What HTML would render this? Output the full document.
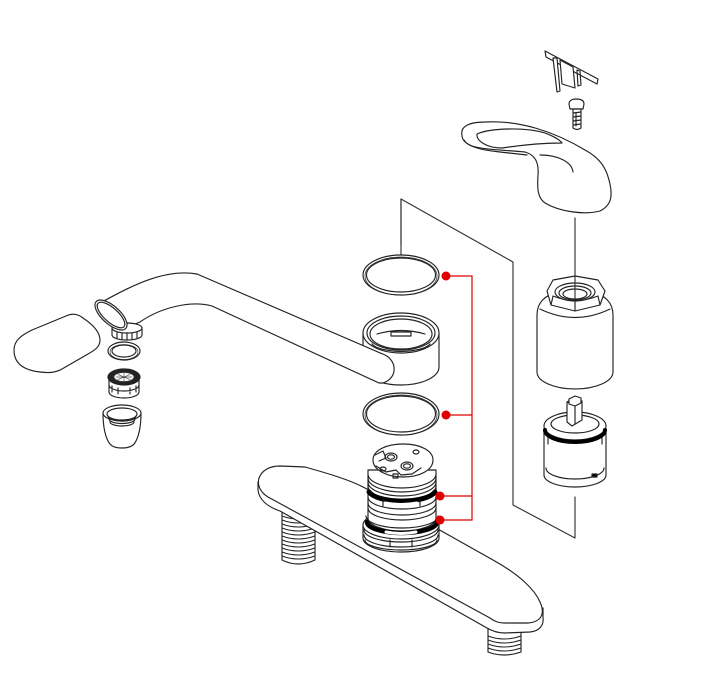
<!DOCTYPE html>
<html><head><meta charset="utf-8"><style>
html,body{margin:0;padding:0;background:#fff;}
svg{display:block;}
</style></head><body>
<svg width="720" height="677" viewBox="0 0 720 677" xmlns="http://www.w3.org/2000/svg">
<g fill="none" stroke="#222" stroke-width="1.15" stroke-linejoin="round" stroke-linecap="round">

<!-- black leader lines -->
<path d="M401,272 L401,199 L513,262 L513,505 L575,538 L575,497" stroke="#333"/>

<!-- ===== Base plate legs ===== -->
<g fill="#fff">
<path d="M282,505 L282,560 Q298,568 315,560 L315,505 Z"/>
<path d="M488,628 L488,652 Q504,658 521,652 L521,628 Z"/>
</g>
<g stroke-width="1">
<path d="M282,516 Q298,522 315,516 M282,520 Q298,526 315,520 M282,524 Q298,530 315,524 M282,528 Q298,534 315,528 M282,532 Q298,538 315,532 M282,536 Q298,542 315,536 M282,540 Q298,546 315,540 M282,544 Q298,550 315,544 M282,548 Q298,554 315,548 M282,552 Q298,558 315,552 M282,556 Q298,562 315,556"/>
<path d="M488,636 Q504,642 521,636 M488,640 Q504,646 521,640 M488,644 Q504,650 521,644 M488,648 Q504,654 521,648"/>
</g>

<!-- ===== Base plate ===== -->
<path fill="#fff" d="M258,480 L258,490 C259,500 268,507 280,511 L487,628 C492,631 498,633 505,633 L530,632 C540,631 544,625 543,617 L543,606 L300,466 Z" stroke="none"/>
<path fill="#fff" d="M305,467 C330,474 350,480 365,488 L493,560 C520,575 535,590 540,602 C546,615 540,622 528,623 L505,623 C498,623 494,621 490,618 L268,497 C260,492 257,485 259,478 C262,470 270,466 280,466 Z"/>
<path d="M258,482 L258,490 C259,500 268,507 280,511 L487,628 C492,631 498,633 505,633 L530,632 C540,631 544,625 543,617 L543,608"/>

<!-- ===== Valve body (center) ===== -->
<g fill="#fff">
<path d="M363,525 L363,538 A38 14 0 0 0 439,538 L439,525 Z"/>
<ellipse cx="401" cy="525" rx="38" ry="14"/>
<path d="M368,470 L368,518 A34 13 0 0 0 436,518 L436,470 Z"/>
</g>
<path d="M368,474 A34 14 0 0 0 436,474 M368,478 A34 14 0 0 0 436,478 M368,482 A34 14 0 0 0 436,482 M368,486 A34 14 0 0 0 436,486"/>
<path d="M369,492 A34 12 0 0 0 435,492" stroke="#000" stroke-width="5"/>
<path d="M385,503 Q401,506 417,503" stroke="#fff" stroke-width="3"/>
<path d="M368,497 A34 12 0 0 0 436,497"/>
<path d="M368,503 A34 12 0 0 0 436,503 M368,508 A34 12 0 0 0 436,508"/>
<path d="M366,516 A36 12 0 0 0 438,516"/>
<path d="M367,522 A35 11 0 0 0 437,522" stroke="#000" stroke-width="4.5"/>
<path d="M386,532 Q401,535 416,532" stroke="#fff" stroke-width="3"/>
<path d="M364,530 A37 12 0 0 0 438,530 M364,535 A37 12 0 0 0 438,535 M365,540 A36 10 0 0 0 437,540"/>
<path d="M383,500 L383,506 M420,500 L420,506 M390,540 L390,547 M412,540 L412,547"/>
<!-- top disc -->
<path fill="#fff" d="M373,460 C373,450 387,444 403,444 C421,444 433,451 433,460 C433,470 420,477 403,477 C387,477 373,470 373,460 Z"/>
<path d="M375,455 L383,451 L386,458 L379,461 M376,466 L386,472 L396,470 L401,475 L412,474 L421,468"/>
<ellipse cx="391" cy="457" rx="6" ry="4"/><ellipse cx="391" cy="457" rx="3.5" ry="2.2"/>
<ellipse cx="407" cy="466" rx="6" ry="4"/><ellipse cx="407" cy="466" rx="3.5" ry="2.2"/>
<ellipse cx="416" cy="452" rx="3" ry="2"/>
<ellipse cx="383" cy="469" rx="3" ry="2"/>
<rect x="393" y="474" width="5" height="4"/>

<!-- ===== O-rings ===== -->
<ellipse cx="401" cy="275" rx="38" ry="20" fill="#fff"/>
<ellipse cx="401" cy="275" rx="34.5" ry="17"/>
<ellipse cx="401" cy="276" rx="36" ry="19" stroke-width="0.7"/>
<ellipse cx="401" cy="414" rx="38" ry="21" fill="#fff"/>
<ellipse cx="401" cy="414" rx="34.5" ry="18"/>
<ellipse cx="401" cy="415" rx="36" ry="20" stroke-width="0.7"/>
<path d="M401,199 L401,245" stroke="#333"/>

<!-- ===== Spout collar ===== -->
<path fill="#fff" d="M363,333 L363,367 A38 18 0 0 0 439,367 L439,333 Z"/>
<ellipse cx="401" cy="333" rx="38" ry="20" fill="#fff"/>
<ellipse cx="401" cy="333" rx="34" ry="17"/>
<ellipse cx="401" cy="334" rx="31" ry="15"/>
<path d="M372,344 A30 10 0 0 0 430,344 M377,334 Q401,327 425,334 M391,332 L411,332 L411,336 L391,336 Z"/>

<!-- ===== Spout arm ===== -->
<path fill="#fff" d="M100,303 C128,288 163,268 197,274 L385,355 C397,361 398,378 383,383 L379,383 L212,306 C190,300 160,308 140,322 L120,330 Z"/>
<!-- nipple -->
<path fill="#fff" d="M112,328 L112,335 A15 5 0 0 0 142,335 L142,328 Z"/>
<ellipse cx="127" cy="328" rx="15" ry="5" fill="#fff"/>
<path d="M117,332 L117,338 M122,333 L122,339 M127,333 L127,340 M132,333 L132,339 M137,332 L137,338"/>
<!-- tip opening -->
<ellipse cx="111" cy="315" rx="20" ry="9" transform="rotate(42 111 315)" fill="#fff"/>
<ellipse cx="111" cy="315" rx="17.5" ry="7" transform="rotate(42 111 315)"/>

<!-- ===== Flat cover ===== -->
<path fill="#fff" d="M14,350 C14,340 22,335 32,330 L66,316 C72,313 78,314 83,318 C92,324 100,332 100,340 C100,347 95,350 88,354 L62,369 C55,373 48,373 40,372 C22,370 14,362 14,350 Z"/>

<!-- ===== Washer ===== -->
<ellipse cx="124" cy="351" rx="16" ry="9" fill="#fff"/>
<ellipse cx="124" cy="351" rx="12" ry="6"/>
<ellipse cx="124" cy="352" rx="14" ry="7.5" stroke-width="0.6"/>

<!-- ===== Aerator ===== -->
<path fill="#fff" d="M109,378 L109,392 A15 6 0 0 0 139,392 L139,378 Z"/>
<path d="M109,385 A15 6 0 0 0 139,385 M112,386 L112,392 M118,388 L118,394 M130,388 L130,394 M136,386 L136,392"/>
<ellipse cx="124" cy="377" rx="16" ry="8" fill="#222"/>
<ellipse cx="124" cy="377" rx="10" ry="4.5" fill="#fff" stroke="#444" stroke-width="0.8"/>
<path d="M116,377 L132,377 M124,373 L124,381 M118,374.5 L130,379.5 M118,379.5 L130,374.5" stroke="#555" stroke-width="0.7"/>

<!-- ===== Aerator housing ===== -->
<path fill="#fff" d="M103,413 C103,425 105,435 108,441 C111,447 116,448 122,448 C129,448 134,446 136,441 C139,435 141,425 141,413 Z"/>
<ellipse cx="122" cy="413" rx="19" ry="8" fill="#fff"/>
<ellipse cx="122" cy="414" rx="15" ry="6"/>
<path d="M108,416 A14 5 0 0 0 136,416 M109,419 A13 4.5 0 0 0 135,419 M110,422 A12 4 0 0 0 134,422"/>

<!-- ===== Handle lever ===== -->
<path fill="#fff" d="M462,135 C460,126 470,122 485,122 C520,120 555,132 585,150 C600,158 606,168 609,180 C613,195 612,205 600,211 C585,215 560,212 545,203 C538,198 537,190 538,175 C539,162 535,155 525,152 C505,150 485,150 472,146 C465,143 462,140 462,135 Z"/>
<path d="M464,140 C467,146 480,150 500,152 L527,155"/>
<path d="M477,134 C490,128 525,127 545,133 C553,136 560,140 562,143 C545,143 522,145 502,148 C487,148 476,141 477,134 Z"/>
<path d="M540,155 C558,155 572,162 573,172"/>

<!-- ===== Cap ===== -->
<path fill="#fff" d="M545,51 L598,79 L597,84 L546,57 Z"/>
<path fill="#fff" d="M553,58 L557,58 L560,91 L557,92 Z"/>
<path fill="#fff" d="M560,60 L573,67 L575,88 L562,84 Z"/>
<path d="M577,70 L580,71 L581,85 L578,86 Z"/>

<!-- ===== Screw ===== -->
<path fill="#fff" d="M569,104 C569,100 573,99 576,99 C580,99 584,100 584,104 L583,109 L570,109 Z"/>
<path fill="#fff" d="M573,109 L573,128 Q577,131 581,128 L581,109 Z"/>
<path d="M573,113 L581,112 M573,117 L581,116 M573,121 L581,120 M573,125 L581,124 M576,113 L576,126"/>

<!-- handle to bonnet line -->
<path d="M575,218 L575,300" stroke="#333"/>

<!-- ===== Bonnet ===== -->
<path fill="#fff" d="M537,372 L537,315 C537,302 546,295 556,293 L594,293 C604,295 613,302 613,315 L613,372 A38 17 0 0 1 537,372 Z"/>
<path d="M540,309 Q575,326 610,309"/>
<path fill="#fff" d="M547,291 L553,280 L575,276 L598,280 L605,291 L600,305 L575,311 L551,305 Z"/>
<path d="M551,305 L553,296 M575,311 L575,302 M600,305 L598,296 M553,296 Q575,305 598,296"/>
<ellipse cx="575" cy="292" rx="20" ry="9" fill="#fff"/>
<ellipse cx="575" cy="293" rx="16" ry="7"/>
<ellipse cx="575" cy="294" rx="12" ry="5"/>
<path d="M575,276 L575,300" stroke="#333"/>

<!-- ===== Cartridge ===== -->
<path fill="#fff" d="M544,430 L544,475 A31 12 0 0 0 606,475 L606,430 Z"/>
<ellipse cx="575" cy="426" rx="31" ry="14" fill="#fff"/>
<path d="M545,430 A30 12 0 0 0 605,430" stroke="#000" stroke-width="4"/>
<ellipse cx="575" cy="424" rx="24" ry="9"/>
<path d="M546,468 A29 11 0 0 0 604,468"/>
<path d="M548,438 L548,444 M602,438 L602,444"/>
<rect x="592" y="474" width="5" height="3" fill="#000"/>
<path fill="#fff" d="M567,402 L574,398 L582,401 L582,420 L572,426 L567,422 Z"/>
<path d="M567,402 L575,405 L582,401 M575,405 L575,424"/>
<path fill="#fff" d="M569,399 L575,396 L581,398 L581,403 L575,406 L569,404 Z"/>

</g>

<!-- ===== Red leaders ===== -->
<g stroke="#e00000" stroke-width="1.2" fill="none">
<path d="M446,276 L472,276 L472,520 L440,520 M446,415 L472,415 M440,496 L472,496"/>
</g>
<g fill="#e00000">
<circle cx="446" cy="276" r="4.5"/>
<circle cx="446" cy="415" r="4.5"/>
<circle cx="440" cy="496" r="4.5"/>
<circle cx="440" cy="520" r="4.5"/>
</g>
</svg>
</body></html>
